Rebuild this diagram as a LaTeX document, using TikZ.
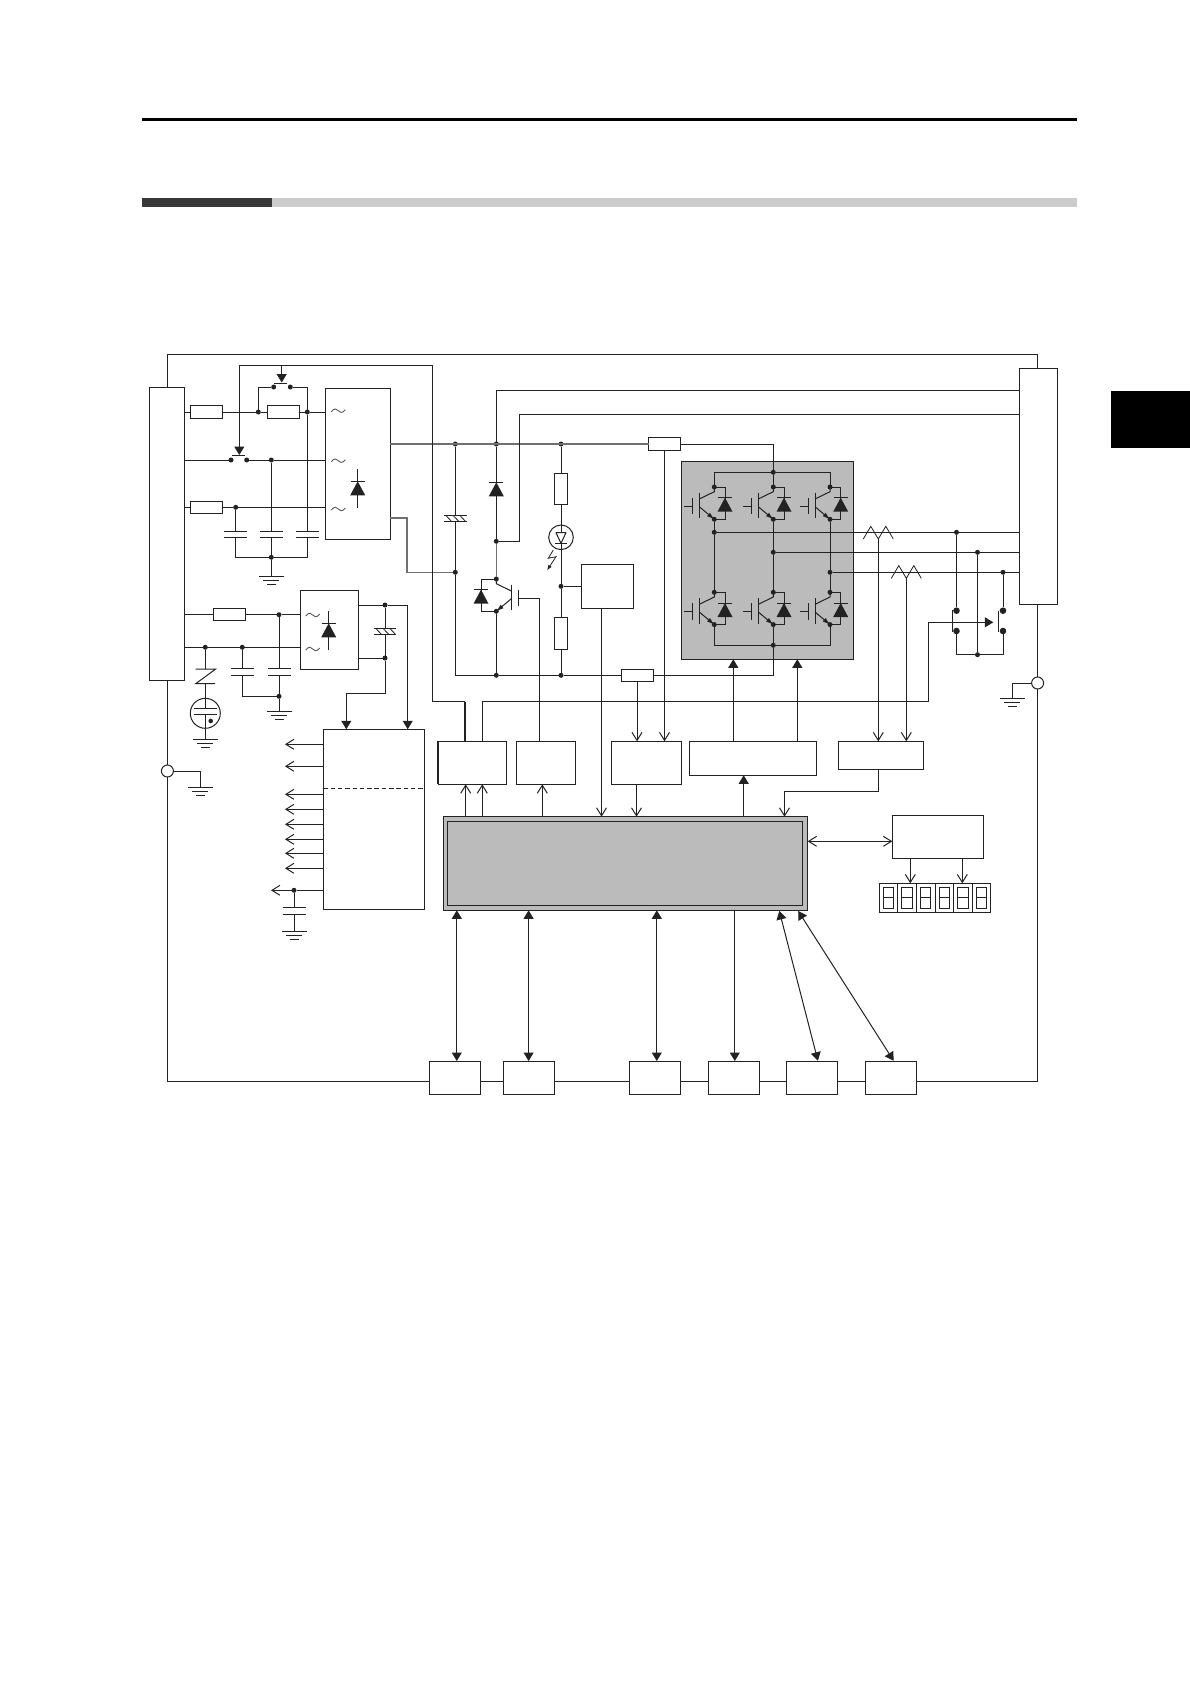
\documentclass[tikz,border=0pt]{standalone}
\usepackage{tikz}
\usetikzlibrary{positioning}
\usetikzlibrary{arrows.meta}
\definecolor{wirecol}{HTML}{222222}
\definecolor{buscol}{HTML}{707070}
\definecolor{panelgray}{HTML}{BBBBBB}
\begin{document}
\begin{tikzpicture}[x=1pt,y=-1pt,>={Straight Barb[length=8pt,width=10pt]}]
\tikzset{
  wire/.style={draw=wirecol,line width=1pt},
  bus/.style={draw=buscol,line width=1.3pt},
  arrow/.style={->,wire},
  biarrow/.style={<->,wire},
  fillarrow/.style={-{Triangle[length=8.5pt,width=10pt]},wire},
  fillboth/.style={{Triangle[length=8.5pt,width=10pt]}-{Triangle[length=8.5pt,width=10pt]},wire},
  box/.style={rectangle,draw=wirecol,fill=white,line width=1pt,inner sep=0pt,outer sep=0pt},
  resh/.style={box,minimum width=32pt,minimum height=12.4pt},
  resv/.style={box,minimum width=13.4pt,minimum height=31.4pt},
  iobox/.style={box,minimum width=51.4pt,minimum height=33pt},
  drvbox/.style={box,minimum height=43pt},
  dot/.style={circle,fill=wirecol,inner sep=0pt,outer sep=0pt,minimum size=5pt},
  bigdot/.style={dot,minimum size=6.6pt},
  terminal/.style={circle,draw=wirecol,fill=white,line width=1pt,inner sep=0pt,outer sep=0pt,minimum size=12pt},
  pics/gnd/.style={code={
    \draw[wire] (-12.5,0) -- (12.5,0) (-8,4) -- (8,4) (-4.5,8) -- (4.5,8);}},
  pics/cap/.style={code={
    \fill[white] (-11,0) rectangle (11,#1);
    \draw[wire] (-11.5,0) -- (11.5,0) (-11.5,#1) -- (11.5,#1);}},
  pics/ecap/.style={code={
    \fill[white] (-11,0) rectangle (11,6);
    \draw[wire] (-11.2,0) -- (11.2,0) (-11.2,6) -- (11.2,6);
    \draw[wire,line width=.8pt] (-9.3,0) -- (-3.6,6) (-2,0) -- (3.7,6) (4.7,0) -- (10.4,6);}},
  pics/diode/.style={code={
    \fill[wirecol] (0,0) -- (7.5,14) -- (-7.5,14) -- cycle;
    \draw[wire] (-7,0) -- (7,0);}},
  pics/tilde/.style={code={
    \draw[draw=black!65,line width=.9pt] (-7,1) .. controls (-4,-3) and (-1,-2) .. (0,0) .. controls (1,2) and (4,3) .. (7,-1);}},
  pics/wave/.style={code={
    \draw[wire,line width=.8pt] (-15,0) -- (-7.5,-12.7) -- (0,0) -- (7.5,-12.7) -- (15,0);}},
  pics/igbt/.style={code={
    \draw[wire] (-30,19) -- (-21.7,19) (-21.7,10.7) -- (-21.7,27.3) (-15,5.7) -- (-15,31.3);
    \draw[wire] (-15,12) -- (0,4.7) -- (0,0);
    \draw[wire] (-15,19.7) -- (0,32.3);
    \fill[wirecol] (-1,31.5) -- (-7.2,29.2) -- (-4.3,25.7) -- cycle;
    \draw[wire] (0,0) -- (#1,0) -- (#1,32.3) -- (0,32.3);
    \pic at (#1,10.7) {diode};}},
}
\useasboundingbox (0,0) rectangle (1190,1684);
% page furniture
\fill[black] (142,118) rectangle (1077,121);
\fill[black!78] (142,198) rectangle (272,207);
\fill[black!20] (272,198) rectangle (1077,207);
\fill[black] (1111,391) rectangle (1190,448);
%
\node[box,fill=panelgray,minimum width=172.4pt,minimum height=197.6pt] (panel) at (767.5,560.5) {};
\node[box,fill=panelgray,minimum width=364.4pt,minimum height=93.6pt] (cpuframe) at (625.5,863.5) {};
\node[box,fill=panelgray,minimum width=355.4pt,minimum height=84.4pt] (cpu) at (625,863.5) {};
%
\node[box,minimum width=35pt,minimum height=293pt] (lblock) at (166.8,533.5) {};
\node[box,minimum width=38pt,minimum height=236pt] (rblock) at (1038,486) {};
\draw[wire] (lblock.north -| 167.4,0) |- (1037.4,354) -- (rblock.north -| 1037.4,0);
\draw[wire] (lblock.south -| 167.4,0) |- (1037.4,1081) -- (rblock.south -| 1037.4,0);
\node[terminal] (pel) at (167.4,771) {};
\node[terminal] (per) at (1037.6,683) {};
\coordinate (gndl) at (200,787);
\coordinate (gndr) at (1012,698);
\draw[wire] (pel) -| (gndl);
\draw[wire] (per) -| (gndr);
\pic at (gndl) {gnd};
\pic at (gndr) {gnd};
%
\node[iobox] (io1) at (455,1077.5) {};
\node[iobox,right=22.5pt of io1] (io2) {};
\node[iobox,right=74.7pt of io2] (io3) {};
\node[iobox,right=27.5pt of io3] (io4) {};
\node[iobox,right=26.8pt of io4] (io5) {};
\node[iobox,right=27.3pt of io5] (io6) {};
%
% main rectifier
\node[box,minimum width=65pt,minimum height=151pt] (bridgea) at (357.8,463.8) {};
\node[resh] (r1) at (206.5,412) {};
\node[resh] (r2) at (283,412) {};
\node[resh] (r3) at (206.5,507.3) {};
\node[dot] (ja) at (258.3,412) {};
\node[dot] (jb) at (307.3,412) {};
\node[dot] (jc) at (271.3,460) {};
\node[dot] (jd) at (235.7,507.3) {};
\node[dot] (je) at (271.3,557.3) {};
\node[dot] (ca) at (273.7,387) {};
\node[dot] (cb) at (290.3,387) {};
\node[dot] (cc) at (231,460) {};
\node[dot] (cd) at (246.7,460) {};
\coordinate (gndm) at (271.3,576.3);
\draw[wire] (lblock.east |- r1) -- (r1);
\draw[wire] (r1) -- (ja) -- (r2);
\draw[wire] (r2) -- (jb) -- (bridgea.west |- jb);
\draw[wire] (lblock.east |- cc) -- (cc);
\draw[wire] (cd) -- (jc) -- (bridgea.west |- jc);
\draw[wire] (lblock.east |- r3) -- (r3);
\draw[wire] (r3) -- (jd) -- (bridgea.west |- jd);
\draw[wire] (ja) |- (ca);
\draw[wire] (cb) -| (jb);
\draw[wire] (jb) |- (je);
\draw[wire] (jd) |- (je);
\draw[wire] (jc) -- (je) -- (gndm);
\pic at (235.7,531.7) {cap=5.5};
\pic at (271.3,531.7) {cap=5.5};
\pic at (307.3,531.7) {cap=5.5};
\pic at (gndm) {gnd};
\pic at (338.3,410.7) {tilde};
\pic at (338.3,460.7) {tilde};
\pic at (338.3,509) {tilde};
\draw[wire] (357.7,469.3) -- (357.7,507.7);
\pic at (357.7,481.3) {diode};
%
% control supply
\node[box,minimum width=58.4pt,minimum height=79pt] (bridgeb) at (329.5,629.8) {};
\node[resh] (r4) at (229.5,614.7) {};
\node[box,minimum width=101.4pt,minimum height=180pt] (powbox) at (374,819.3) {};
\node[dot] (jf) at (279,614.7) {};
\node[dot] (jg) at (205.3,647.3) {};
\node[dot] (jh) at (242.3,647.3) {};
\node[dot] (ji) at (279,696.3) {};
\node[dot] (outp) at (385,605) {};
\node[dot] (outn) at (385,658) {};
\node[circle,draw=wirecol,line width=1pt,fill=white,minimum size=30pt,inner sep=0pt,outer sep=0pt] (tube) at (205.3,713.3) {};
\coordinate (gndn) at (279,711.3);
\coordinate (gndt) at (205.3,739.7);
\draw[wire] (lblock.east |- r4) -- (r4);
\draw[wire] (r4) -- (jf) -- (bridgeb.west |- jf);
\draw[wire] (lblock.east |- jg) -- (bridgeb.west |- jg);
\draw[wire] (jf) -- (ji) -- (gndn);
\draw[wire] (jh) |- (ji);
\pic at (242.3,668.3) {cap=7.4};
\pic at (279,668.3) {cap=7.4};
\pic at (gndn) {gnd};
\draw[wire] (jg) -- (205.3,669);
\draw[wire] (195.7,669) -- (215.7,669) -- (195.7,683.7) -- (215,683.7);
\draw[wire] (205.3,683.7) -- (205.3,708.3);
\draw[wire] (193.8,708.3) -- (216.8,708.3) (193.8,714.3) -- (216.8,714.3);
\draw[wire] (205.3,714.3) -- (gndt);
\fill[wirecol] (210.7,721) circle (2.3pt);
\pic at (gndt) {gnd};
\pic at (312.7,615) {tilde};
\pic at (312.7,649) {tilde};
\draw[wire] (328.7,611) -- (328.7,650);
\pic at (328.7,623.3) {diode};
\draw[wire] (bridgeb.east |- outp) -- (outp);
\draw[wire] (bridgeb.east |- outn) -- (outn);
\draw[wire] (outp) -- (outn);
\begin{scope}[xscale=-1,shift={(-770,0)}]
\pic at (385,628.3) {ecap};
\end{scope}
\draw[fillarrow] (outp) -| (powbox.north -| 407.7,0);
\draw[fillarrow] (outn) |- (346.3,693.3) -- (powbox.north -| 346.3,0);
\draw[wire,dash pattern=on 4.5pt off 2.8pt] (powbox.west |- 0,788.3) -- (powbox.east |- 0,788.3);
\foreach \yo in {744.3,766.3,794.3,809.3,824.3,839.3,853.3,868.3}
  \draw[arrow] (powbox.west |- 0,\yo) -- (285,\yo);
\node[dot] (jk) at (294,890.3) {};
\coordinate (outk) at (271,890.3);
\coordinate (gndk) at (294,931.3);
\draw[wire] (powbox.west |- jk) -- (jk);
\draw[arrow] (jk) -- (outk);
\draw[wire] (jk) -- (gndk);
\pic at (294,907.3) {cap=6.7};
\pic at (gndk) {gnd};
%
% dc link
\node[resh] (rcharge) at (664.5,444) {};
\node[resh] (rshunt) at (637,675.3) {};
\node[dot] (busa) at (455.3,444) {};
\node[dot] (busb) at (496.3,444) {};
\node[dot] (busc) at (561,444) {};
\node[dot] (nega) at (455.3,572.3) {};
\node[dot] (negb) at (496.3,675.3) {};
\node[dot] (negc) at (561,675.3) {};
\node[dot] (midb) at (496.3,541.3) {};
\node[dot] (bc) at (496.3,579) {};
\node[dot] (be) at (496.3,611.3) {};
\node[dot] (vtap) at (561,586.3) {};
\node[dot] (railp) at (773.3,472.3) {};
\node[dot] (railn) at (773.3,645.3) {};
\draw[bus] (bridgea.east |- busa) -- (rcharge);
\draw[wire] (rcharge) -| (railp);
\draw[bus] (bridgea.east |- 0,518) -| (407,572.3) -- (nega);
\draw[wire] (busa) -- (nega);
\draw[wire] (nega) |- (negb);
\draw[wire] (negb) -- (negc) -- (rshunt);
\draw[wire] (rshunt) -| (railn);
\pic at (455.3,515.6) {ecap};
% brake
\draw[wire] (rblock.west |- 0,390.3) -| (busb);
\draw[wire] (busb) -- (midb);
\draw[bus] (midb) -- (bc);
\draw[wire] (be) -- (negb);
\draw[wire] (rblock.west |- 0,414.3) -| (519.7,541.3) -- (midb);
\pic at (496.3,482.3) {diode};
\pic[xscale=-1] at (bc) {igbt=15.3};
% bleeder and lamp
\node[resv] (rva) at (561,489) {};
\node[resv] (rvb) at (561,633.5) {};
\node[circle,draw=wirecol,line width=1pt,fill=white,minimum size=24.6pt,inner sep=0pt,outer sep=0pt] (led) at (561,537.3) {};
\node[box,minimum width=52.4pt,minimum height=43.4pt] (vdet) at (607.5,586.3) {};
\draw[wire] (busc) -- (rva);
\draw[wire] (rva) -- (led);
\draw[wire] (led) -- (vtap);
\draw[wire] (vtap) -- (rvb);
\draw[wire] (rvb) -- (negc);
\draw[wire] (vtap) -- (vdet);
\draw[wire] (561,525) -- (561,532.7) (561,543.3) -- (561,549.6);
\draw[wire,line join=round] (556,532.7) -- (566,532.7) -- (561,543.3) -- cycle;
\draw[wire] (555,543.3) -- (567,543.3);
\draw[wire,line width=.8pt,-{Triangle[length=5pt,width=3.5pt]}] (553.3,550) -- (548.3,558.3) -- (556,556.7) -- (547.3,570);
%
% inverter
\foreach \col/\xc in {u/714.3,v/773.3,w/830} {
  \pic at (\xc,487) {igbt=10.7};
  \pic at (\xc,592.3) {igbt=10.7};
  \node[dot] (\col a) at (\xc,487) {};
  \node[dot] (\col b) at (\xc,519.3) {};
  \node[dot] (\col c) at (\xc,592.3) {};
  \node[dot] (\col d) at (\xc,624.6) {};
}
\node[dot] (uout) at (714.3,532.3) {};
\node[dot] (vout) at (773.3,552.3) {};
\node[dot] (wout) at (830,572.3) {};
\draw[wire] (ua) |- (railp);
\draw[wire] (railp) -| (wa);
\draw[wire] (va) -- (railp);
\draw[wire] (ud) |- (railn);
\draw[wire] (railn) -| (wd);
\draw[wire] (vd) -- (railn);
\draw[wire] (ub) -- (uout) -- (uc);
\draw[wire] (vb) -- (vout) -- (vc);
\draw[wire] (wb) -- (wout) -- (wc);
\draw[wire] (uout) -- (rblock.west |- uout);
\draw[wire] (vout) -- (rblock.west |- vout);
\draw[wire] (wout) -- (rblock.west |- wout);
\coordinate (wavea) at (878.3,539);
\coordinate (waveb) at (906.3,578.3);
\pic at (wavea) {wave};
\pic at (waveb) {wave};
%
% dynamic brake contact
\node[dot] (ta) at (956.5,532.3) {};
\node[dot] (tb) at (977.5,552.3) {};
\node[dot] (tc) at (1003,572.3) {};
\node[dot] (tm) at (977.5,654.7) {};
\node[bigdot] (sa) at (956.5,610.7) {};
\node[bigdot] (sb) at (956.5,631) {};
\node[bigdot] (sc) at (1003,610.7) {};
\node[bigdot] (sd) at (1003,631) {};
\draw[wire] (ta) -- (sa);
\draw[wire] (tc) -- (sc);
\draw[wire] (tb) -- (tm);
\draw[wire] (sb) |- (tm);
\draw[wire] (sd) |- (tm);
\draw[wire] (sa) -- (952.3,610.7) -- (952.3,631) -- (sb);
\draw[wire] (998.3,610.7) -- (998.3,631.7);
%
% driver row
\node[drvbox,minimum width=68.4pt] (relaydrv) at (472.5,762.8) {};
\node[drvbox,minimum width=59.4pt,right=9.6pt of relaydrv] (brakedrv) {};
\node[drvbox,minimum width=70.4pt,right=35.6pt of brakedrv] (adconv) {};
\node[box,minimum width=127.4pt,minimum height=34pt] (gatedrv) at (753,758.3) {};
\node[box,minimum width=85.4pt,minimum height=28.4pt] (curdet) at (881,755.5) {};
\node[box,minimum width=91.4pt,minimum height=43pt] (dispdrv) at (938,836.8) {};
\coordinate (brakegate) at (526,598);
\draw[wire,line width=2pt] (relaydrv.north west) -- (relaydrv.south west);
\draw[wire,line width=2pt] (relaydrv.north -| 465,0) -- (465,701.7);
\draw[wire] (465,701.7) -- (432.7,701.7) |- (239.3,365.3);
\draw[fillarrow] (239.3,365.3) -- (239.3,455);
\draw[fillarrow] (281.7,365.3) -- (281.7,382.5);
\draw[wire] (274,383.7) -- (287.3,383.7);
\draw[wire] (232,455.7) -- (245.3,455.7);
\draw[fillarrow] (relaydrv.north -| 482.3,0) |- (928.3,701.3) |- (993.3,622.3);
\draw[wire] (brakegate) -- (539.3,598) -- (brakedrv.north -| 539.3,0);
\draw[arrow] (rshunt) -- (rshunt |- adconv.north);
\draw[arrow] (rcharge) -- (rcharge |- adconv.north);
\draw[arrow] (vdet.south -| 601.5,0) -- (cpuframe.north -| 601.5,0);
\draw[arrow] (adconv.south -| 636.5,0) -- (cpuframe.north -| 636.5,0);
\draw[arrow] (cpuframe.north -| 465.7,0) -- (relaydrv.south -| 465.7,0);
\draw[arrow] (cpuframe.north -| 482.3,0) -- (relaydrv.south -| 482.3,0);
\draw[arrow] (cpuframe.north -| 542.3,0) -- (brakedrv.south -| 542.3,0);
\draw[fillarrow] (cpuframe.north -| 743.7,0) -- (gatedrv.south -| 743.7,0);
\draw[fillarrow] (gatedrv.north -| 733.3,0) -- (panel.south -| 733.3,0);
\draw[fillarrow] (gatedrv.north -| 797.3,0) -- (panel.south -| 797.3,0);
\draw[arrow] (wavea) -- (wavea |- curdet.north);
\draw[arrow] (waveb) -- (waveb |- curdet.north);
\draw[arrow] (curdet.south -| 878.5,0) |- (784.5,791.3) -- (cpuframe.north -| 784.5,0);
\draw[biarrow] (cpuframe.east |- 0,841.3) -- (dispdrv.west |- 0,841.3);
%
% display
\foreach \n in {1,...,6} {
  \node[box,minimum width=18.57pt,minimum height=29pt] (digit\n) at (879.3+18.57*\n-9.28,897.8) {};
  \node[box,minimum width=10.5pt,minimum height=20.4pt] (seg\n) at (digit\n) {};
  \draw[wire] (seg\n.west) -- (seg\n.east);
}
\draw[arrow] (dispdrv.south -| 910.3,0) -- (digit2.north -| 910.3,0);
\draw[arrow] (dispdrv.south -| 962.3,0) -- (digit5.north -| 962.3,0);
%
% bottom links
\draw[fillboth] (cpuframe.south -| 456.8,0) -- (io1.north -| 456.8,0);
\draw[fillboth] (cpuframe.south -| 528.6,0) -- (io2.north -| 528.6,0);
\draw[fillboth] (cpuframe.south -| 656.8,0) -- (io3.north -| 656.8,0);
\draw[fillarrow] (cpuframe.south -| 734.8,0) -- (io4.north -| 734.8,0);
\draw[fillboth] (779.3,911) -- (817.9,1060.7);
\draw[fillboth] (798.2,911) -- (893.6,1060.7);
\end{tikzpicture}
\end{document}
